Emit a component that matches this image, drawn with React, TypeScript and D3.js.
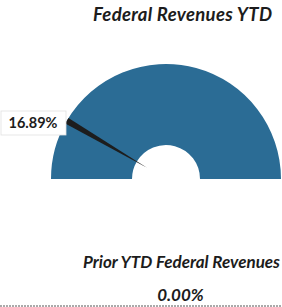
import React from 'react';
import * as d3 from 'd3';

// values
const gaugeParts = ['YTD', 'Remaining'];
const gaugeValues = [16.89, 83.11];
const ytdLabel = '16.89%';
const priorLabel = '0.00%';
const title = 'Federal Revenues YTD';
const priorTitle = 'Prior YTD Federal Revenues';

const W = 282;
const H = 307;
const cx = 166;
const cy = 179;
const outerR = 115;
const innerR = 34;
const blue = '#2b6c95';

const App: React.FC = () => {
    const pie = d3.pie<number>().sort(null).startAngle(-Math.PI / 2).endAngle(Math.PI / 2);
    const slices = pie(gaugeValues);
    const arc = d3.arc<d3.PieArcDatum<number>>().innerRadius(innerR).outerRadius(outerR);

    // needle sits at the edge between the two slices
    const total = d3.sum(gaugeValues);
    const angle = d3.scaleLinear().domain([0, total]).range([-Math.PI / 2, Math.PI / 2]);
    const a = angle(gaugeValues[0]);
    const pt = (ang: number, r: number) => [r * Math.sin(ang), -r * Math.cos(ang)];
    const w = 0.028;
    const p1 = pt(a - w, outerR);
    const p2 = pt(a + w, outerR);
    const tip = pt(a, 22);
    const needle = `M${p1[0]},${p1[1]}L${p2[0]},${p2[1]}L${tip[0]},${tip[1]}Z`;

    const font = 'Lato, "Open Sans", sans-serif';

    return (
        <svg width={W} height={H} style={{ position: 'absolute', left: 0, top: 0, background: '#fff' }}>
            <text x={182.5} y={21} textAnchor="middle" fontFamily={font} fontWeight="bold" fontStyle="italic" fontSize={18.5}
                textLength={179} lengthAdjust="spacing" fill="#1c1c1c">
                {title}
            </text>

            <g transform={`translate(${cx},${cy})`}>
                {slices.map((s, i) => (
                    <path key={gaugeParts[i]} d={arc(s) || ''} fill={blue} />
                ))}
                <path d={needle} fill="#1d1d1d" />
            </g>

            {/* data label box */}
            <rect x={1} y={111} width={65} height={24} fill="#fff" stroke="#e0e0e0" strokeWidth={0.8} />
            <text x={33} y={128} textAnchor="middle" fontFamily={font} fontWeight="bold" fontSize={14.5} fill="#1c1c1c">
                {ytdLabel}
            </text>

            <text x={181.5} y={268} textAnchor="middle" fontFamily={font} fontWeight="bold" fontStyle="italic" fontSize={17}
                textLength={197} lengthAdjust="spacing" fill="#1c1c1c">
                {priorTitle}
            </text>
            <text x={180.5} y={301} textAnchor="middle" fontFamily={font} fontWeight="bold" fontStyle="italic" fontSize={17}
                fill="#1c1c1c">
                {priorLabel}
            </text>
            <line x1={0} x2={W} y1={306} y2={306} stroke="#555" strokeWidth={1} strokeDasharray="2,1" />
        </svg>
    );
};

export default App;
